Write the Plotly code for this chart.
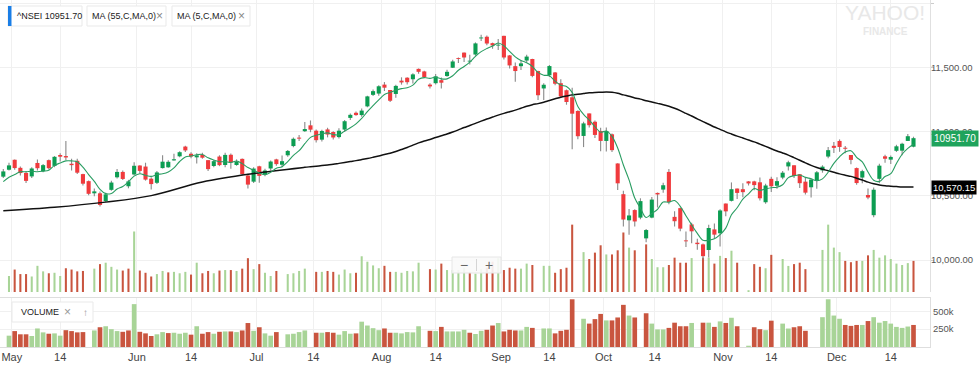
import plotly.graph_objects as go
import pandas as pd

# ---------------- data ----------------
holidays = ['2018-05-01', '2018-08-15', '2018-08-22', '2018-09-13', '2018-09-20',
            '2018-10-02', '2018-10-18', '2018-11-08', '2018-11-23']
dates = [d.strftime('%Y-%m-%d') for d in pd.bdate_range('2018-04-27', '2018-12-20')
         if d.strftime('%Y-%m-%d') not in holidays]

opens = [
    10651, 10705, 10783, 10720, 10680, 10653, 10758, 10693, 10780, 10735,
    10820, 10812, 10752, 10775, 10671, 10616, 10521, 10521, 10459, 10548,
    10646, 10688, 10576, 10668, 10738, 10730, 10635, 10603, 10718, 10724,
    10778, 10810, 10886, 10830, 10802, 10822, 10780, 10734, 10808, 10742,
    10822, 10742, 10790, 10660, 10612, 10732, 10668, 10715, 10786, 10744,
    10818, 10890, 10956, 11006, 11052, 11010, 10940, 11020, 11000, 10960,
    11019, 11110, 11150, 11132, 11200, 11290, 11300, 11370, 11328, 11297,
    11401, 11424, 11412, 11493, 11473, 11370, 11381, 11405, 11437, 11502,
    11576, 11620, 11550, 11605, 11731, 11744, 11694, 11675, 11751, 11598,
    11514, 11514, 11558, 11570, 11476, 11340, 11443, 11465, 11381, 11326,
    11271, 11164, 10969, 11145, 11080, 11008, 10930, 10982, 10754, 10514,
    10310, 10390, 10331, 10169, 10331, 10524, 10550, 10688, 10337, 10405,
    10152, 10278, 10135, 10122, 10078, 10239, 10209, 10441, 10462, 10558,
    10553, 10614, 10614, 10607, 10451, 10634, 10580, 10644, 10731, 10740,
    10670, 10612, 10568, 10621, 10700, 10808, 10892, 10930, 10877, 10820,
    10718, 10644, 10508, 10350, 10634, 10810, 10784, 10853, 10854, 10930,
    10885]
highs = [
    10710, 10760, 10785, 10730, 10696, 10725, 10785, 10750, 10786, 10812,
    10834, 10929, 10790, 10790, 10674, 10621, 10558, 10535, 10525, 10620,
    10710, 10700, 10626, 10764, 10740, 10760, 10646, 10696, 10818, 10780,
    10830, 10850, 10893, 10842, 10834, 10837, 10780, 10781, 10818, 10837,
    10832, 10786, 10793, 10674, 10724, 10736, 10713, 10777, 10790, 10817,
    10860, 10956, 10976, 11078, 11090, 11020, 11018, 11033, 11006, 11030,
    11093, 11144, 11160, 11184, 11283, 11331, 11366, 11390, 11328, 11368,
    11427, 11428, 11459, 11495, 11478, 11380, 11453, 11425, 11486, 11565,
    11582, 11620, 11604, 11700, 11760, 11753, 11698, 11727, 11752, 11602,
    11542, 11562, 11604, 11573, 11479, 11380, 11523, 11469, 11411, 11332,
    11346, 11170, 11080, 11145, 11090, 11034, 11035, 10989, 10755, 10540,
    10398, 10397, 10482, 10242, 10492, 10527, 10604, 10710, 10380, 10408,
    10222, 10290, 10166, 10128, 10275, 10285, 10396, 10441, 10606, 10558,
    10600, 10616, 10619, 10645, 10596, 10651, 10646, 10695, 10775, 10740,
    10671, 10646, 10637, 10695, 10740, 10883, 10922, 10942, 10890, 10821,
    10722, 10704, 10558, 10567, 10752, 10822, 10816, 10900, 10915, 10985,
    10963]
lows = [
    10640, 10700, 10705, 10660, 10601, 10640, 10700, 10686, 10707, 10725,
    10770, 10781, 10699, 10672, 10582, 10505, 10497, 10418, 10451, 10541,
    10636, 10625, 10560, 10660, 10675, 10620, 10550, 10594, 10715, 10720,
    10775, 10802, 10843, 10794, 10754, 10790, 10696, 10724, 10733, 10725,
    10713, 10736, 10660, 10558, 10602, 10604, 10654, 10700, 10736, 10725,
    10807, 10880, 10930, 10999, 10998, 10917, 10926, 10958, 10941, 10950,
    11000, 11093, 11126, 11119, 11194, 11281, 11284, 11320, 11234, 11267,
    11370, 11370, 11379, 11454, 11419, 11340, 11370, 11340, 11431, 11499,
    11539, 11546, 11528, 11595, 11710, 11678, 11650, 11640, 11567, 11496,
    11393, 11484, 11545, 11427, 11250, 11250, 11430, 11365, 11268, 11213,
    10866, 10944, 10882, 11035, 10953, 10850, 10847, 10843, 10547, 10262,
    10198, 10262, 10318, 10138, 10327, 10410, 10525, 10436, 10261, 10224,
    10102, 10131, 10080, 10004, 10020, 10165, 10105, 10341, 10457, 10477,
    10491, 10582, 10545, 10464, 10440, 10532, 10557, 10631, 10700, 10640,
    10562, 10512, 10489, 10557, 10682, 10794, 10835, 10845, 10833, 10747,
    10588, 10599, 10474, 10333, 10599, 10760, 10750, 10844, 10819, 10929,
    10880]
closes = [
    10692, 10739, 10718, 10679, 10618, 10715, 10717, 10741, 10717, 10806,
    10807, 10801, 10741, 10682, 10596, 10517, 10536, 10430, 10513, 10605,
    10688, 10633, 10614, 10736, 10696, 10628, 10593, 10684, 10768, 10767,
    10787, 10842, 10856, 10808, 10817, 10799, 10710, 10772, 10741, 10821,
    10762, 10769, 10671, 10589, 10714, 10657, 10699, 10769, 10749, 10772,
    10852, 10947, 10948, 11023, 11018, 10936, 11008, 10980, 10957, 11010,
    11084, 11134, 11132, 11167, 11278, 11319, 11357, 11346, 11244, 11360,
    11387, 11389, 11450, 11470, 11429, 11356, 11435, 11385, 11470, 11551,
    11570, 11582, 11557, 11692, 11738, 11691, 11676, 11680, 11582, 11520,
    11476, 11536, 11589, 11438, 11287, 11369, 11515, 11377, 11278, 11234,
    11143, 10967, 11067, 11053, 10977, 10930, 11008, 10858, 10599, 10316,
    10348, 10301, 10460, 10234, 10472, 10512, 10584, 10453, 10303, 10245,
    10146, 10224, 10124, 10030, 10250, 10198, 10387, 10380, 10553, 10524,
    10530, 10598, 10585, 10482, 10582, 10576, 10616, 10682, 10763, 10656,
    10600, 10526, 10628, 10685, 10729, 10858, 10876, 10883, 10869, 10782,
    10601, 10694, 10488, 10549, 10737, 10791, 10805, 10888, 10908, 10967,
    10951.70]
# volume in thousands (None = no volume reported that day)
volumes_k = [
    None, 159, 223, 178, 178, 154, 260, 205, 186, 191,
    159, 236, 223, 205, 209, None, 232, 277, 291, 250,
    223, 213, 232, 601, 213, 191, 154, 178, 209, 195,
    200, 186, 200, 173, 291, 186, 209, 186, 213, 218,
    218, 209, 232, 336, 227, 277, 191, 159, 209, None,
    178, 186, 209, 232, None, 200, 200, 209, 200, 173,
    223, 186, 191, 355, 301, 264, 236, 260, 200, 200,
    191, 209, 205, 291, None, 227, 223, 282, 218, 218,
    218, 241, 200, 182, 227, 241, 301, 336, 218, 241,
    232, 232, 282, 268, None, 260, 260, 191, 227, 241,
    669, None, 396, 328, 391, 464, 373, 373, 414, 591,
    441, 414, None, 473, 328, 246, 246, 268, 341, 291,
    291, 337, None, 341, 341, 282, 359, 337, 410, 291,
    None, 18, 277, 250, 236, 369, None, 328, 259, 277,
    291, 227, None, None, 418, 669, 441, 396, 309, 296,
    309, 309, 364, 418, 341, 364, 328, 282, 268, 287,
    309]
ma55_read_idx = [0, 9, 18, 26, 35, 44, 53]
ma55_read_val = [10385, 10412, 10452, 10503, 10610, 10676, 10724]
ma5_read_val = [10612, 10646, 10667, 10689]  # first four candles
last_close_label = 10951.70
ma55_last_label = 10570.15

tick_dates = ['2018-05-01', '2018-05-14', '2018-06-01', '2018-06-14', '2018-07-01', '2018-07-14',
              '2018-08-01', '2018-08-14', '2018-09-01', '2018-09-14', '2018-10-01', '2018-10-14',
              '2018-11-01', '2018-11-14', '2018-12-01', '2018-12-14']
tick_labels = ['May', '14', 'Jun', '14', 'Jul', '14', 'Aug', '14', 'Sep', '14', 'Oct', '14',
               'Nov', '14', 'Dec', '14']
price_ticks = [10000, 10500, 11000, 11500, 12000]
vol_ticks = [250, 500]
vol_tick_labels = ['250k', '500k']

# ---------------- derived ----------------
n = len(closes)
idx = list(range(n))
date_set = set(dates)
tick_pos = []
for td, lab in zip(tick_dates, tick_labels):
    i = next(k for k, d in enumerate(dates) if d >= td)
    off = 0.5 if (lab.isalpha() or td not in date_set) else 0.0
    tick_pos.append(i - off)

GREEN = '#0c9d52'
RED = '#f03a3d'
VGREEN = '#a8d497'
VRED = '#c9553f'

body_base = [min(o, c) for o, c in zip(opens, closes)]
body_h = [max(abs(c - o), 7) for o, c in zip(opens, closes)]
body_col = [GREEN if c >= o else RED for o, c in zip(opens, closes)]
wick_h = [h - l for h, l in zip(highs, lows)]

vx, vy, vc = [], [], []
for k in range(n):
    if volumes_k[k] is None:
        continue
    vx.append(k)
    vy.append(volumes_k[k])
    up = k == 0 or closes[k] >= closes[k - 1]
    vc.append(VGREEN if up else VRED)

ma5_x, ma5_y = [], []
for k in range(n):
    ma5_x.append(k)
    if k < 4:
        ma5_y.append(ma5_read_val[k])
    else:
        ma5_y.append(sum(closes[k - 4:k + 1]) / 5)
ma55_x = list(ma55_read_idx)
ma55_y = list(ma55_read_val)
for k in range(54, n):
    ma55_x.append(k)
    ma55_y.append(sum(closes[k - 54:k + 1]) / 55)

# ---------------- figure ----------------
W, H = 980, 376
ML, MR, MT, MB = 0, 50, 0, 29
PW, PH = W - ML - MR, H - MT - MB
def px(x):
    return (x - ML) / PW
def py(y):
    return 1 - (y - MT) / PH

main_bottom = 292
panel_top = 298
XR = [-0.58, 162.9]

fig = go.Figure()
fig.add_trace(go.Bar(x=vx, y=vy, marker=dict(color=vc, line=dict(width=0)), width=0.36,
                     xaxis='x', yaxis='y', hoverinfo='skip', showlegend=False))
fig.add_trace(go.Bar(x=idx, y=wick_h, base=lows, marker=dict(color='#8c8c8c', line=dict(width=0)),
                     width=0.2, xaxis='x', yaxis='y2', hoverinfo='skip', showlegend=False))
fig.add_trace(go.Bar(x=idx, y=body_h, base=body_base, marker=dict(color=body_col, line=dict(width=0)),
                     width=0.72, xaxis='x', yaxis='y2', customdata=dates, showlegend=False))
fig.add_trace(go.Scatter(x=ma55_x, y=ma55_y, mode='lines', line=dict(color='#111111', width=1.5, shape='spline'),
                         xaxis='x', yaxis='y2', hoverinfo='skip', showlegend=False))
fig.add_trace(go.Scatter(x=ma5_x, y=ma5_y, mode='lines', line=dict(color='#2a9d62', width=1.1, shape='spline'),
                         xaxis='x', yaxis='y2', hoverinfo='skip', showlegend=False))
fig.add_trace(go.Bar(x=vx, y=vy, marker=dict(color=vc, line=dict(width=0)), width=0.82,
                     xaxis='x2', yaxis='y3', hoverinfo='skip', showlegend=False))

GRID = '#f0f0f0'
FONT = 'Liberation Sans, Arial, sans-serif'
fig.update_layout(
    width=W, height=H, margin=dict(l=ML, r=MR, t=MT, b=MB),
    paper_bgcolor='white', plot_bgcolor='white', barmode='overlay', hovermode=False,
    font=dict(family=FONT, size=10, color='#444'),
    xaxis=dict(domain=[0, 1], range=XR, anchor='y', tickvals=tick_pos, showticklabels=False,
               showgrid=True, gridcolor=GRID, zeroline=False, ticks=''),
    yaxis=dict(domain=[(PH - main_bottom) / PH, 1], range=[0, 2900], visible=False, fixedrange=True),
    yaxis2=dict(overlaying='y', side='right', anchor='x', range=[9750, 12031], tickvals=price_ticks,
                tickformat=',.2f', showgrid=True, gridcolor=GRID, zeroline=False, ticks='outside',
                ticklen=3, tickcolor='#cccccc', showline=True, linecolor='#e0e0e0',
                ticklabelstandoff=-5, tickfont=dict(size=9.5, color='#555')),
    xaxis2=dict(domain=[0, 1], range=XR, anchor='y3', tickvals=tick_pos, ticktext=tick_labels,
                showgrid=True, gridcolor=GRID, zeroline=False, ticks='', showline=True, mirror=True,
                linecolor='#dedede', tickfont=dict(size=11, color='#444')),
    yaxis3=dict(domain=[0, (PH - panel_top) / PH], range=[0, 687], side='right', anchor='x2',
                tickvals=vol_ticks, ticktext=vol_tick_labels, showgrid=True, gridcolor=GRID,
                zeroline=False, ticks='', showline=True, mirror=True, linecolor='#dedede',
                tickfont=dict(size=9.5, color='#555')),
)

shapes = []
annos = []
def chip(x0, x1, y0, y1):
    shapes.append(dict(type='rect', xref='paper', yref='paper', x0=px(x0), x1=px(x1), y0=py(y1), y1=py(y0),
                       fillcolor='white', line=dict(color='#e9e9e9', width=1), layer='above'))
def text(x, y, s, size=9, color='#222', anchor='left', **kw):
    annos.append(dict(xref='paper', yref='paper', x=px(x), y=py(y), text=s, showarrow=False,
                      xanchor=anchor, yanchor='middle', font=dict(size=size, color=color, family=FONT), **kw))

chip(8, 82, 6, 26)
shapes.append(dict(type='rect', xref='paper', yref='paper', x0=px(8), x1=px(11.5), y0=py(26), y1=py(6),
                   fillcolor='#1a7ee6', line=dict(width=0), layer='above'))
text(15, 16, '^NSEI 10951.70')
chip(87, 166, 6, 26)
text(90, 16, 'MA (55,C,MA,0)')
text(159, 16, '×', size=12, color='#888', anchor='center')
chip(172, 250, 6, 26)
text(175, 16, 'MA (5,C,MA,0)')
text(241, 16, '×', size=12, color='#888', anchor='center')
chip(12, 93, 302, 322)
text(19, 312, 'VOLUME')
text(67, 312, '×', size=12, color='#999', anchor='center')
text(85, 312, '↑', size=10, color='#999', anchor='center')
shapes.append(dict(type='rect', xref='paper', yref='paper', x0=px(452), x1=px(501), y0=py(273), y1=py(257),
                   fillcolor='rgba(250,250,250,0.9)', line=dict(color='#e6e6e6', width=1), layer='above'))
shapes.append(dict(type='line', xref='paper', yref='paper', x0=px(476.5), x1=px(476.5), y0=py(271), y1=py(259),
                   line=dict(color='#d5d5d5', width=1), layer='above'))
text(464, 265, '−', size=14, color='#666', anchor='center')
text(488.5, 265, '+', size=14, color='#666', anchor='center')
text(885, 13, 'YAHOO!', size=21, color='#e8e8e8', anchor='center')
text(885, 31, '<b>FINANCE</b>', size=10, color='#e8e8e8', anchor='center')

annos.append(dict(xref='paper', yref='y2', x=px(931), y=last_close_label, text=f'{last_close_label:.2f}',
                  showarrow=False, xanchor='left', yanchor='middle', bgcolor='#1fa35c', borderpad=2,
                  font=dict(size=10, color='white', family=FONT)))
annos.append(dict(xref='paper', yref='y2', x=px(931), y=ma55_last_label, text=f'{ma55_last_label:,.2f}',
                  showarrow=False, xanchor='left', yanchor='middle', bgcolor='#000000', borderpad=1,
                  font=dict(size=9.5, color='white', family=FONT)))

fig.update_layout(shapes=shapes, annotations=annos)
fig.write_html('out.html', config={'displayModeBar': False, 'staticPlot': True},
               post_script="document.body.style.margin='0';document.body.style.padding='0';")
